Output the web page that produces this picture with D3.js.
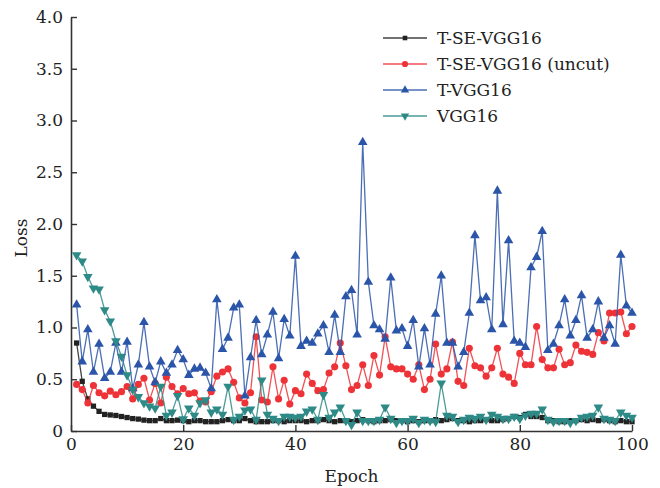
<!DOCTYPE html>
<html>
<head>
<meta charset="utf-8">
<script src="https://d3js.org/d3.v7.min.js"></script>
<style>
  body { margin: 0; background: #fff; }
  text { font-family: "DejaVu Serif", serif; }
</style>
</head>
<body>
<script>
// epochs 1..100
let epochs = d3.range(1, 101);

let tseVgg = [
  0.85,0.48,0.31,0.24,0.19,0.16,0.155,0.15,0.14,0.13,0.12,0.115,0.105,0.10,0.10,0.12,0.10,0.10,0.105,0.10,
  0.09,0.10,0.10,0.09,0.09,0.09,0.10,0.11,0.10,0.10,0.12,0.10,0.09,0.09,0.09,0.10,0.10,0.09,0.10,0.10,
  0.10,0.09,0.10,0.10,0.11,0.10,0.09,0.10,0.10,0.09,0.10,0.11,0.10,0.09,0.10,0.10,0.11,0.10,0.10,0.09,
  0.10,0.09,0.10,0.10,0.11,0.10,0.11,0.12,0.10,0.10,0.09,0.10,0.10,0.11,0.10,0.10,0.11,0.12,0.14,0.13,
  0.16,0.14,0.14,0.13,0.10,0.10,0.09,0.09,0.10,0.10,0.11,0.10,0.11,0.10,0.11,0.10,0.09,0.10,0.09,0.09
];
let tseVggUncut = [
  0.45,0.40,0.27,0.44,0.37,0.34,0.385,0.35,0.38,0.43,0.31,0.45,0.51,0.30,0.46,0.27,0.52,0.43,0.36,0.41,
  0.36,0.37,0.29,0.28,0.38,0.53,0.57,0.60,0.47,0.32,0.27,0.37,0.91,0.30,0.28,0.62,0.31,0.49,0.26,0.39,
  0.36,0.55,0.46,0.39,0.40,0.56,0.62,0.85,0.63,0.40,0.44,0.64,0.44,0.73,0.54,0.91,0.62,0.60,0.60,0.55,
  0.50,0.64,0.40,0.50,0.84,0.55,0.60,0.86,0.48,0.44,0.80,0.63,0.61,0.53,0.61,0.80,0.55,0.52,0.46,0.75,
  0.64,0.64,1.01,0.69,0.61,0.61,0.79,0.64,0.66,0.83,0.77,0.76,0.74,0.95,0.87,1.14,1.14,1.15,0.94,1.01
];
let tVgg = [
  1.22,0.67,0.98,0.57,0.84,0.51,0.57,0.85,0.57,0.86,0.41,0.64,1.05,0.62,0.47,0.67,0.56,0.64,0.78,0.69,
  0.54,0.60,0.61,0.56,0.41,1.27,0.79,0.90,1.19,1.22,0.34,0.71,1.07,0.74,0.93,1.15,0.70,1.08,0.92,1.69,
  0.82,0.87,0.85,0.94,1.02,0.76,1.12,0.76,1.30,1.36,0.93,2.79,1.44,1.02,0.98,0.89,1.48,0.97,0.99,0.82,
  1.07,0.62,0.99,0.64,1.13,1.50,0.85,0.85,0.62,0.76,1.14,1.89,1.26,1.29,0.98,2.32,1.03,1.84,0.87,0.85,
  0.81,1.58,1.68,1.93,0.78,0.84,1.02,1.27,0.92,1.07,1.31,0.90,0.98,1.25,0.90,1.02,0.84,1.70,1.21,1.14
];
let vgg = [
  1.70,1.64,1.49,1.38,1.37,1.17,1.06,0.87,0.72,0.54,0.40,0.33,0.27,0.24,0.22,0.43,0.15,0.18,0.34,0.115,
  0.22,0.15,0.27,0.30,0.18,0.21,0.16,0.43,0.11,0.14,0.20,0.21,0.11,0.49,0.16,0.12,0.10,0.14,0.14,0.13,
  0.14,0.19,0.21,0.11,0.35,0.13,0.18,0.23,0.10,0.06,0.18,0.10,0.10,0.10,0.11,0.23,0.12,0.08,0.10,0.10,
  0.12,0.08,0.11,0.10,0.09,0.46,0.15,0.14,0.09,0.11,0.13,0.12,0.14,0.11,0.16,0.14,0.12,0.12,0.14,0.12,
  0.15,0.17,0.17,0.21,0.11,0.09,0.10,0.10,0.08,0.10,0.13,0.14,0.15,0.23,0.12,0.11,0.10,0.18,0.15,0.13
];

let seriesNames = ["T-SE-VGG16", "T-SE-VGG16 (uncut)", "T-VGG16", "VGG16"];
let xTicks = [0, 20, 40, 60, 80, 100];
let yTicks = [0, 0.5, 1.0, 1.5, 2.0, 2.5, 3.0, 3.5, 4.0];

let series = [
  { name: seriesNames[0], values: tseVgg, color: "#222222", symbol: d3.symbolSquare, size: 28, rot: 0 },
  { name: seriesNames[1], values: tseVggUncut, color: "#ee3338", symbol: d3.symbolCircle, size: 40, rot: 0 },
  { name: seriesNames[2], values: tVgg, color: "#2b55a8", symbol: d3.symbolTriangle, size: 40, rot: 0 },
  { name: seriesNames[3], values: vgg, color: "#2e8a86", symbol: d3.symbolTriangle, size: 40, rot: 180 }
];

let width = 660, height = 488;
let margin = { left: 71, top: 17, right: 28, bottom: 57 };
let w = width - margin.left - margin.right,
    h = height - margin.top - margin.bottom;

let svg = d3.select("body").append("svg")
    .attr("width", width)
    .attr("height", height);

let g = svg.append("g")
    .attr("transform", "translate(" + margin.left + "," + margin.top + ")");

let x = d3.scaleLinear().domain([0, 100]).range([0, w]);
let y = d3.scaleLinear().domain([0, 4]).range([h, 0]);

// axes, ticks pointing inward
let xAxis = g.append("g")
    .attr("transform", "translate(0," + h + ")")
    .call(d3.axisBottom(x).tickValues(xTicks).tickSize(-6).tickSizeOuter(0).tickPadding(7));
let yAxis = g.append("g")
    .call(d3.axisLeft(y).tickValues(yTicks).tickSize(-6).tickSizeOuter(0).tickPadding(8)
      .tickFormat(function (d) { return d === 0 ? "0" : d3.format(".1f")(d); }));

[xAxis, yAxis].forEach(function (a) {
  a.select(".domain").attr("stroke", "#333").attr("stroke-width", 1.6);
  a.selectAll(".tick line").attr("stroke", "#333").attr("stroke-width", 1.4);
  a.selectAll(".tick text")
    .attr("font-family", "DejaVu Serif, serif")
    .attr("font-size", 17)
    .attr("fill", "#222");
});

let line = d3.line()
    .x(function (d, i) { return x(epochs[i]); })
    .y(function (d) { return y(d); });

series.forEach(function (s) {
  let sg = g.append("g");
  sg.append("path")
    .datum(s.values)
    .attr("d", line)
    .attr("fill", "none")
    .attr("stroke", s.color)
    .attr("stroke-opacity", 0.85)
    .attr("stroke-width", 1.3);
  sg.selectAll("path.pt")
    .data(s.values)
    .enter()
    .append("path")
    .attr("class", "pt")
    .attr("d", d3.symbol().type(s.symbol).size(s.size))
    .attr("transform", function (d, i) {
      return "translate(" + x(epochs[i]) + "," + y(d) + ") rotate(" + s.rot + ")";
    })
    .attr("fill", s.color);
});

// legend
let legend = svg.append("g").attr("transform", "translate(383,38)");
series.forEach(function (s, i) {
  let row = legend.append("g").attr("transform", "translate(0," + (i * 26) + ")");
  row.append("line")
    .attr("x1", 0).attr("x2", 44)
    .attr("stroke", s.color)
    .attr("stroke-opacity", 0.85)
    .attr("stroke-width", 1.3);
  row.append("path")
    .attr("d", d3.symbol().type(s.symbol).size(s.size * 0.75))
    .attr("transform", "translate(22,0) rotate(" + s.rot + ")")
    .attr("fill", s.color);
  row.append("text")
    .attr("x", 54)
    .attr("y", 6)
    .attr("font-size", 17)
    .attr("fill", "#222")
    .text(s.name);
});

// axis titles
svg.append("text")
  .attr("x", margin.left + w / 2)
  .attr("y", 482)
  .attr("text-anchor", "middle")
  .attr("font-size", 17)
  .attr("fill", "#222")
  .text("Epoch");

svg.append("text")
  .attr("transform", "translate(27," + (margin.top + h / 2 + 14) + ") rotate(-90)")
  .attr("text-anchor", "middle")
  .attr("font-size", 17)
  .attr("fill", "#222")
  .text("Loss");
</script>
</body>
</html>
